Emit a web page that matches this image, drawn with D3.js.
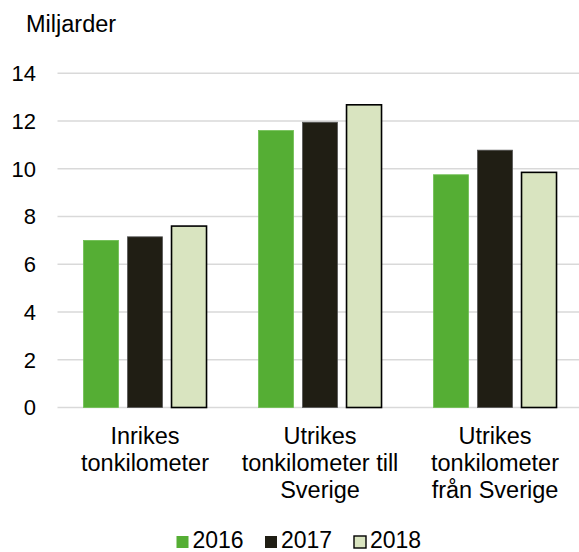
<!DOCTYPE html>
<html>
<head>
<meta charset="utf-8">
<script src="https://cdn.jsdelivr.net/npm/d3@7"></script>
<style>
  body { margin: 0; background: #fff; }
  text { font-family: "Liberation Sans", Arial, sans-serif; fill: #000; }
</style>
</head>
<body>
<script>
'use strict';

// chart data
const categories = [
  ["Inrikes", "tonkilometer"],
  ["Utrikes", "tonkilometer till", "Sverige"],
  ["Utrikes", "tonkilometer", "från Sverige"]
];
const years = ["2016", "2017", "2018"];
const values2016 = [7.0, 11.6, 9.75];
const values2017 = [7.15, 11.95, 10.78];
const values2018 = [7.6, 12.68, 9.85];
const yTicks = [0, 2, 4, 6, 8, 10, 12, 14];

const seriesValues = [values2016, values2017, values2018];
const colors = ["#55ae34", "#201e14", "#d9e4c0"];
const strokes = ["#6fbf52", "#555555", "#000000"];
const strokeW = [0.8, 0.8, 1.6];

(function () {
  const width = 579, height = 552;

  const svg = d3.select('body')
    .append('svg')
    .attr('width', width)
    .attr('height', height);

  const catIdx = categories.map((c, i) => i);

  // scales
  const x0 = d3.scaleBand()
    .domain(catIdx)
    .range([57.5, 582.5])
    .padding(0);

  const x1 = d3.scaleBand()
    .domain(years)
    .range([0, x0.bandwidth()])
    .paddingInner(0.205)
    .paddingOuter(0.59);

  const y = d3.scaleLinear()
    .domain([0, 14])
    .range([407.5, 73.3]);

  // gridlines
  svg.append('g')
    .selectAll('line')
    .data(yTicks)
    .enter()
    .append('line')
    .attr('x1', 57.5)
    .attr('x2', width)
    .attr('y1', d => y(d))
    .attr('y2', d => y(d))
    .attr('stroke', '#d9d9d9')
    .attr('stroke-width', 1.4);

  // y tick labels
  svg.append('g')
    .selectAll('text')
    .data(yTicks)
    .enter()
    .append('text')
    .attr('x', 36)
    .attr('y', d => y(d))
    .attr('dy', '0.36em')
    .attr('text-anchor', 'end')
    .style('font-size', '22px')
    .text(d => d);

  // unit label
  svg.append('text')
    .attr('x', 26)
    .attr('y', 32)
    .style('font-size', '23.5px')
    .text('Miljarder');

  // bars
  years.forEach((yr, s) => {
    svg.append('g')
      .selectAll('rect')
      .data(seriesValues[s])
      .enter()
      .append('rect')
      .attr('x', (d, i) => x0(i) + x1(yr))
      .attr('y', d => y(d))
      .attr('width', x1.bandwidth())
      .attr('height', d => y(0) - y(d))
      .attr('fill', colors[s])
      .attr('stroke', strokes[s])
      .attr('stroke-width', strokeW[s]);
  });

  // category labels
  const lab = svg.append('g')
    .selectAll('text')
    .data(categories)
    .enter()
    .append('text')
    .attr('text-anchor', 'middle')
    .style('font-size', '23.5px');

  lab.selectAll('tspan')
    .data((d, i) => d.map(t => ({ t: t, i: i })))
    .enter()
    .append('tspan')
    .attr('x', d => x0(d.i) + x0.bandwidth() / 2)
    .attr('y', (d, j) => 443.5 + j * 27)
    .text(d => d.t);

  // legend
  const legendX = [176.5, 265, 354];
  const legend = svg.append('g')
    .selectAll('g')
    .data(years)
    .enter()
    .append('g')
    .attr('transform', (d, i) => 'translate(' + legendX[i] + ',540)');

  legend.append('rect')
    .attr('x', 0)
    .attr('y', -4)
    .attr('width', 12)
    .attr('height', 12)
    .attr('fill', (d, i) => colors[i])
    .attr('stroke', (d, i) => i === 2 ? '#000' : 'none')
    .attr('stroke-width', 1.4);

  legend.append('text')
    .attr('x', 16)
    .attr('y', 0)
    .attr('dy', '0.36em')
    .style('font-size', '23px')
    .text(d => d);
})();
</script>
</body>
</html>
